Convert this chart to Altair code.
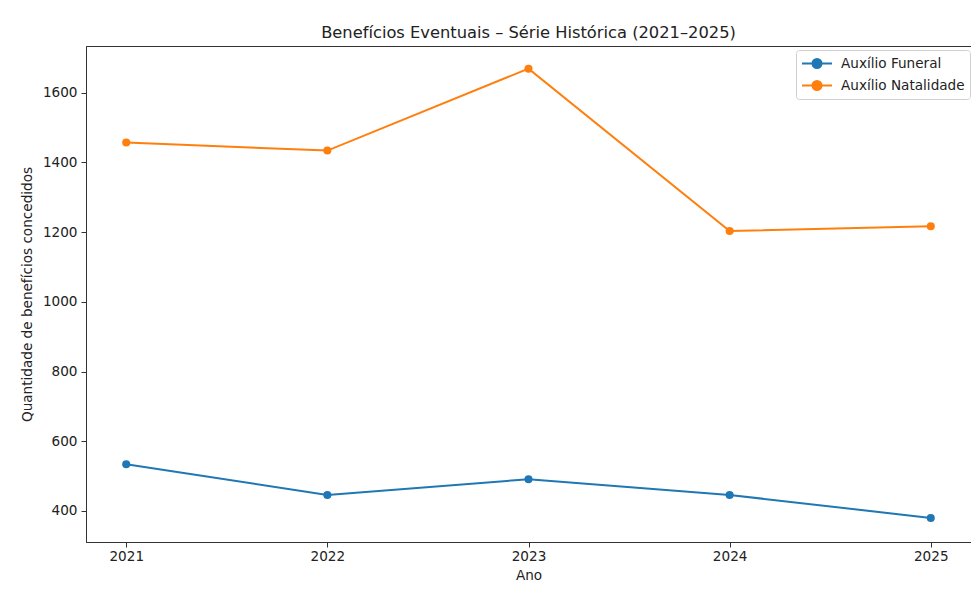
import altair as alt
import pandas as pd

anos = [2021, 2022, 2023, 2024, 2025]
auxilio_funeral = [534, 446, 491, 446, 380]
auxilio_natalidade = [1457, 1434, 1669, 1203, 1217]
series = ["Auxílio Funeral", "Auxílio Natalidade"]
cores = ["#1f77b4", "#ff7f0e"]

rows = []
for a, f, n in zip(anos, auxilio_funeral, auxilio_natalidade):
    rows.append({"Ano": a, "Serie": series[0], "Valor": f})
    rows.append({"Ano": a, "Serie": series[1], "Valor": n})
df = pd.DataFrame(rows)

FONT = "DejaVu Sans"
TXT = "#222222"
FS = 13.6

# legend glyph: a short line with a dot in its middle (unit box is [-1,1])
legend_symbol = "M-1,0L3,0M0.4,0a0.6,0.6 0 1,0 1.2,0a0.6,0.6 0 1,0 -1.2,0Z"

chart = alt.Chart(df).mark_line(
    strokeWidth=2,
    point=alt.OverlayMarkDef(filled=True, size=65, opacity=1),
).encode(
    x=alt.X("Ano:Q", scale=alt.Scale(domain=[2020.8, 2025.2], nice=False, zero=False),
            axis=alt.Axis(values=anos, format="d", title="Ano")),
    y=alt.Y("Valor:Q", scale=alt.Scale(domain=[311, 1734], nice=False, zero=False),
            axis=alt.Axis(values=[400, 600, 800, 1000, 1200, 1400, 1600], format="d",
                          title="Quantidade de benefícios concedidos")),
    color=alt.Color("Serie:N", scale=alt.Scale(domain=series, range=cores),
                    legend=alt.Legend(
                        title=None, orient="none", legendX=710, legendY=4,
                        symbolType=legend_symbol, symbolSize=225,
                        symbolStrokeWidth=2, symbolOpacity=1,
                        labelFont=FONT, labelFontSize=FS, labelColor=TXT,
                        labelOffset=23, rowPadding=5,
                        padding=5, strokeColor="#d0d0d0", fillColor="white",
                        cornerRadius=3,
                    )),
).properties(
    width=885,
    height=496,
    title=alt.TitleParams("Benefícios Eventuais – Série Histórica (2021–2025)",
                          font=FONT, fontSize=16.3, fontWeight="normal", color=TXT,
                          anchor="middle", offset=5),
    autosize=alt.AutoSizeParams(type="none"),
    padding={"left": 78, "top": 38, "right": 0, "bottom": 41},
).configure(
    background="white"
).configure_view(
    stroke="#333333", strokeWidth=1
).configure_axis(
    grid=False,
    domainColor="#333333",
    tickColor="#333333",
    tickSize=5,
    labelFont=FONT, labelFontSize=FS, labelColor=TXT,
    titleFont=FONT, titleFontSize=FS, titleColor=TXT, titleFontWeight="normal",
    labelPadding=4,
).configure_axisX(
    labelPadding=2,
    titlePadding=6,
).configure_axisY(
    titlePadding=8,
)

chart.save("out.html", embed_options={"renderer": "svg", "actions": False})
